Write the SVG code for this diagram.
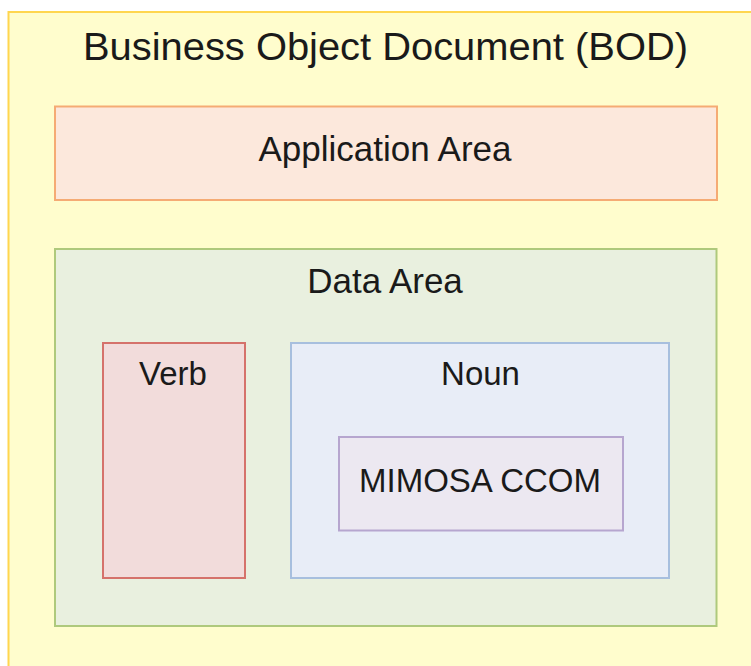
<svg xmlns="http://www.w3.org/2000/svg" width="751" height="666" viewBox="0 0 751 666">
  <style>
    .box { stroke-width: 2; }
    .lbl { font-family: "Liberation Sans", Arial, sans-serif; fill: #1a1a1a; text-anchor: middle; }
  </style>
  <rect x="0" y="0" width="751" height="666" fill="#ffffff"/>
  <g id="bod">
    <rect class="box" x="8.5" y="12" width="760" height="680" fill="#fffdcd" stroke="#ffd64f"/>
    <text class="lbl" x="385.5" y="59.5" font-size="39.5" textLength="605" lengthAdjust="spacingAndGlyphs">Business Object Document (BOD)</text>
  </g>
  <g id="application-area">
    <rect class="box" x="55" y="106.5" width="662" height="93.5" fill="#fce8dc" stroke="#f5ab74"/>
    <text class="lbl" x="385" y="161" font-size="35">Application Area</text>
  </g>
  <g id="data-area">
    <rect class="box" x="55" y="249" width="661.5" height="377" fill="#e9f0df" stroke="#aec97c"/>
    <text class="lbl" x="385" y="293.3" font-size="35">Data Area</text>
  </g>
  <g id="verb">
    <rect class="box" x="103" y="343" width="142" height="235" fill="#f2dcdb" stroke="#d5726b"/>
    <text class="lbl" x="173" y="385" font-size="33">Verb</text>
  </g>
  <g id="noun">
    <rect class="box" x="291" y="343" width="378" height="235" fill="#e8edf7" stroke="#a7bfde"/>
    <text class="lbl" x="480.5" y="385" font-size="33">Noun</text>
  </g>
  <g id="mimosa-ccom">
    <rect class="box" x="339" y="437" width="284" height="93.5" fill="#ece8f1" stroke="#b6a6cf"/>
    <text class="lbl" x="480" y="492.3" font-size="33">MIMOSA CCOM</text>
  </g>
  <g id="connectors"/>
</svg>
